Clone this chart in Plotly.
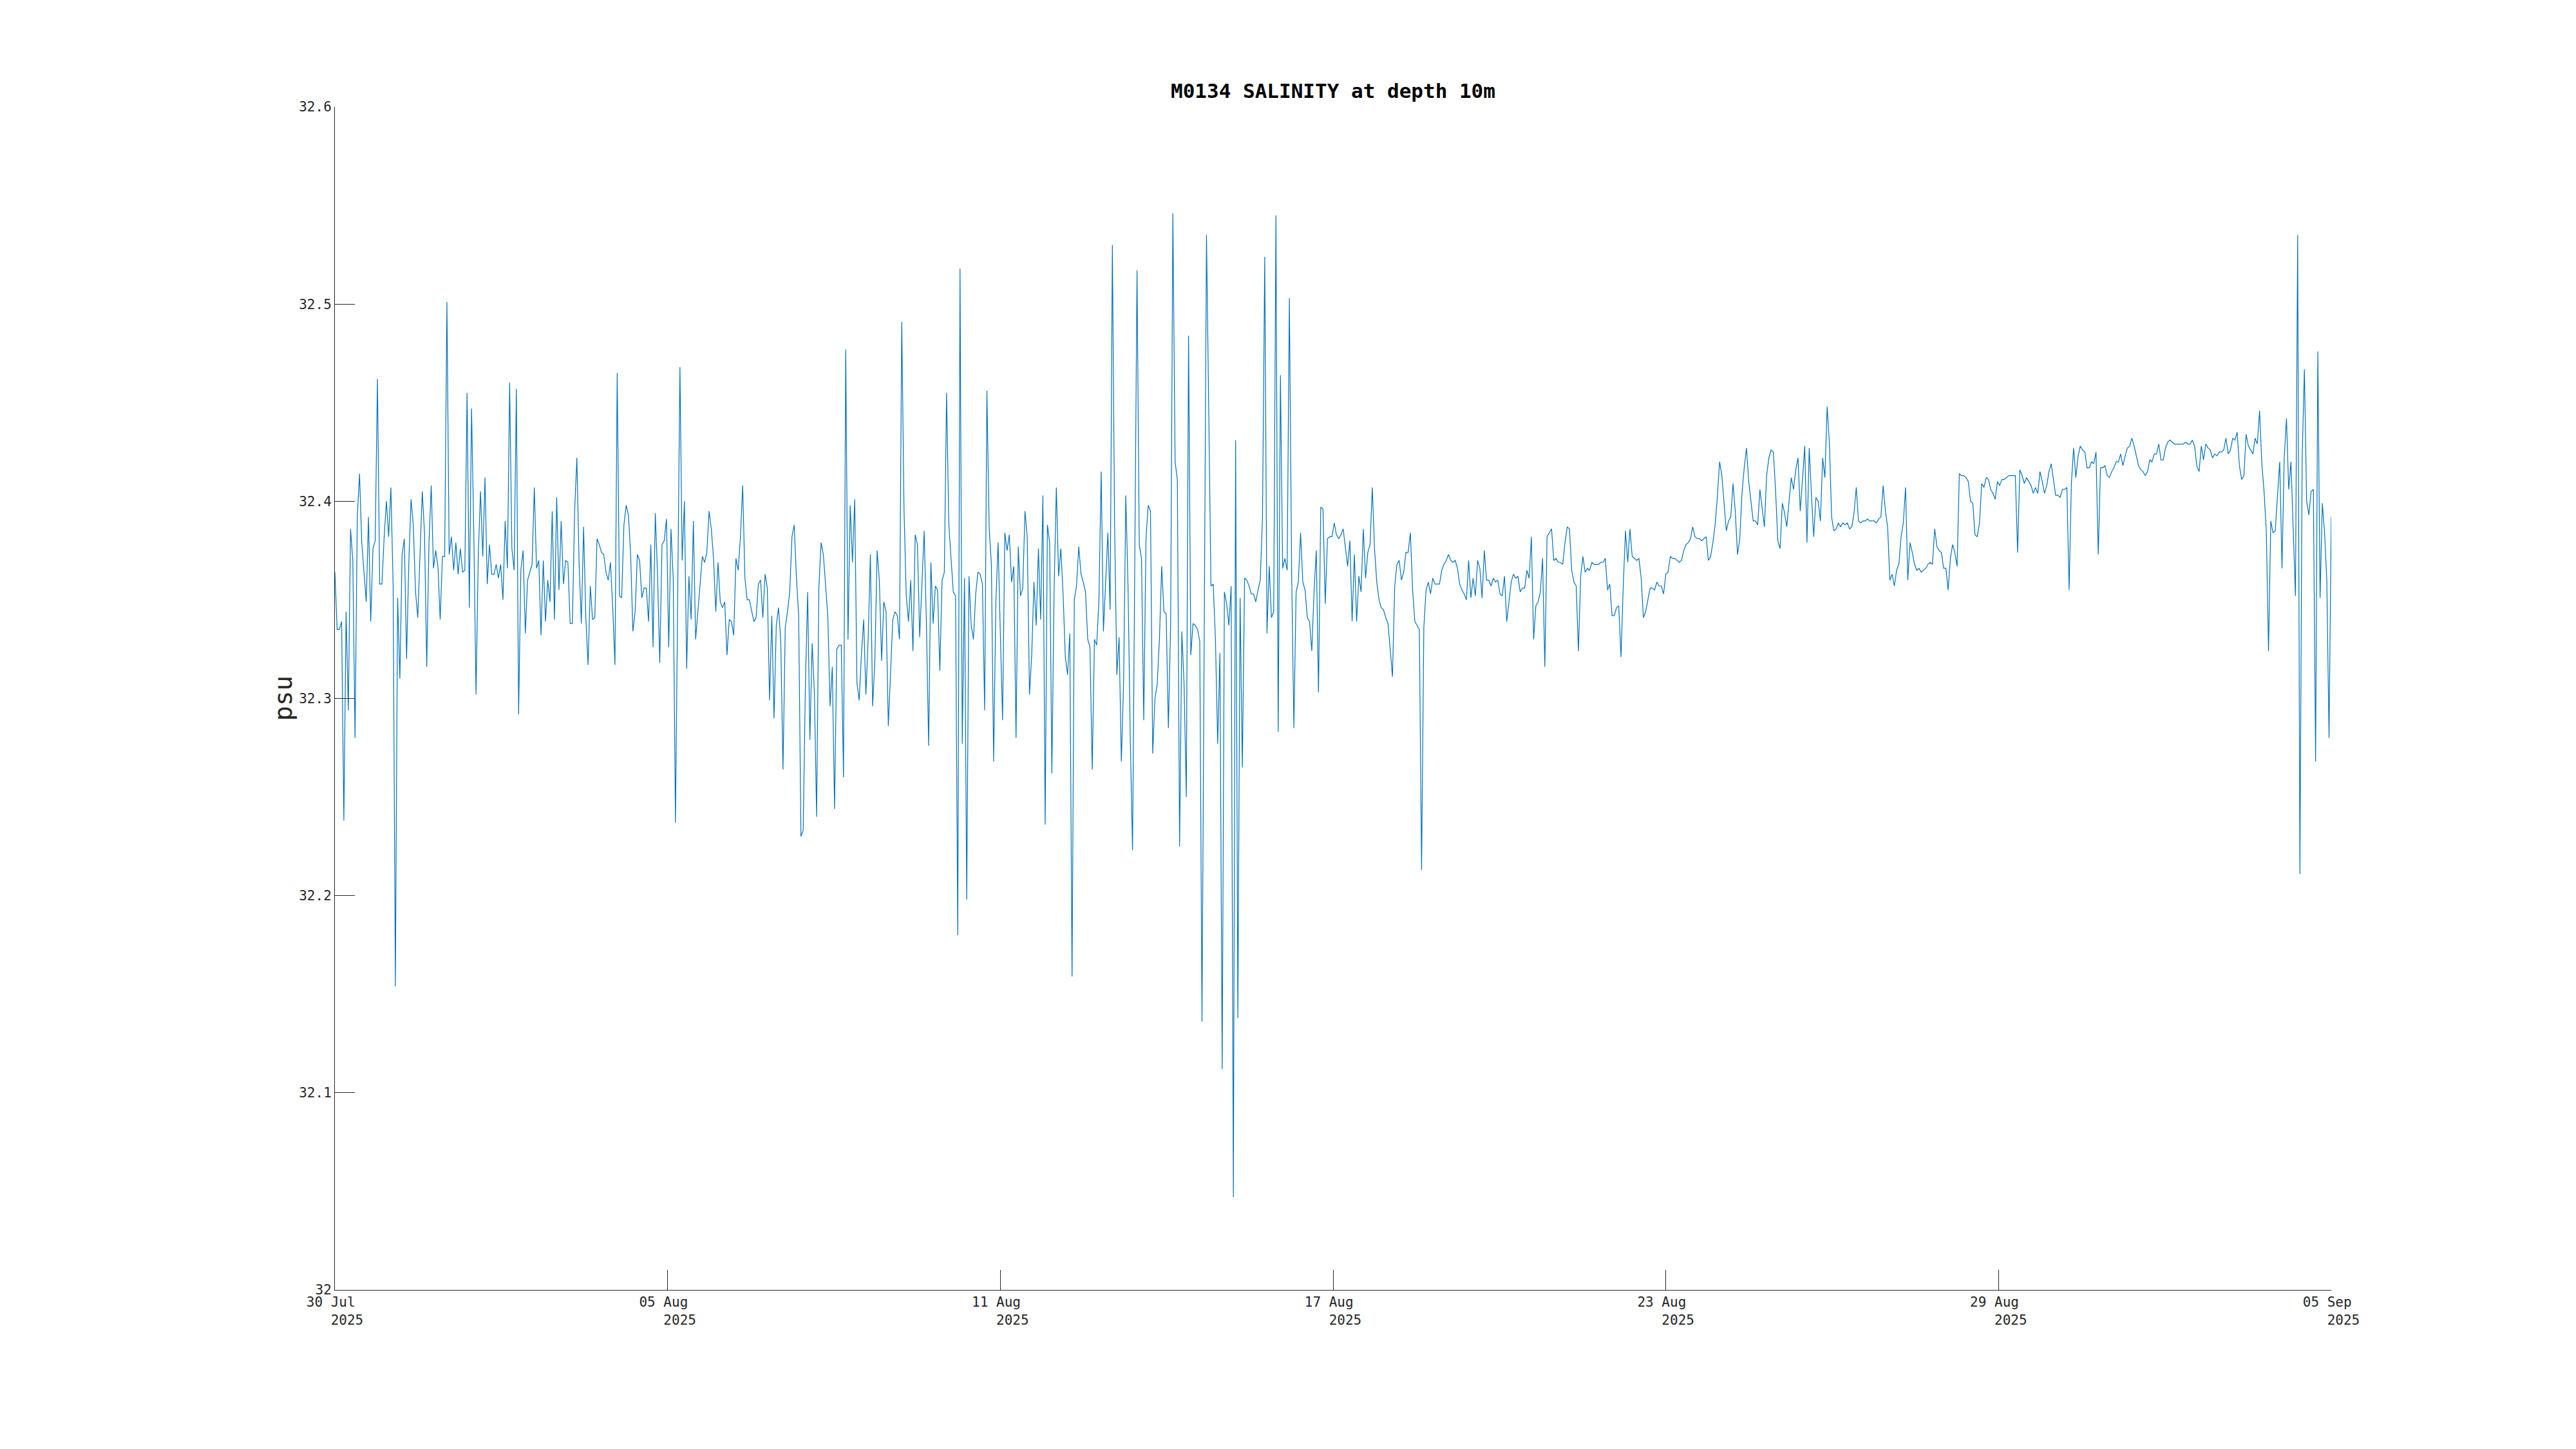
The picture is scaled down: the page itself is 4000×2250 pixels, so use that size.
import pandas as pd
import plotly.graph_objects as go

START = "2025-07-30 00:00"
END = "2025-09-05 00:00"
TITLE = "M0134 SALINITY at depth 10m"
Y_LABEL = "psu"

# salinity readings (psu), in time order, split in chunks
sal_a = [32.364,32.335,32.335,32.339,32.238,32.344,32.294,32.386,32.370,32.280,
         32.392,32.414,32.379,32.364,32.349,32.392,32.339,32.376,32.380,32.462,
         32.358,32.358,32.382,32.400,32.382,32.407,32.357,32.154,32.351,32.310,
         32.373,32.381,32.320,32.369,32.401,32.388,32.354,32.341,32.376,32.405,
         32.384,32.316,32.379,32.408,32.366,32.375,32.367,32.340,32.372,32.372,
         32.501,32.373,32.382,32.365,32.379,32.363,32.376,32.364,32.365,32.455,
         32.346,32.447,32.384,32.302,32.373,32.405,32.372,32.412,32.358,32.378,
         32.363,32.363,32.368,32.361,32.368,32.350,32.390,32.366,32.460,32.376,
         32.365,32.457,32.292,32.365,32.375,32.333,32.360,32.364,32.368,32.407]
sal_b = [32.366,32.370,32.332,32.370,32.339,32.360,32.349,32.395,32.340,32.402,
         32.355,32.390,32.358,32.370,32.369,32.338,32.338,32.395,32.422,32.368,
         32.338,32.387,32.341,32.317,32.357,32.340,32.341,32.381,32.378,32.374,
         32.373,32.364,32.360,32.369,32.346,32.317,32.465,32.352,32.351,32.388,
         32.398,32.393,32.373,32.334,32.344,32.373,32.370,32.351,32.356,32.356,
         32.339,32.378,32.326,32.394,32.363,32.318,32.378,32.380,32.391,32.326,
         32.386,32.361,32.237,32.352,32.468,32.370,32.400,32.315,32.362,32.340,
         32.390,32.330,32.344,32.357,32.372,32.369,32.374,32.395,32.386,32.371,
         32.344,32.369,32.349,32.346,32.349,32.322,32.340,32.339,32.332]
sal_c = [32.371,32.365,32.382,32.408,32.361,32.350,32.350,32.344,32.339,32.341,
         32.358,32.360,32.341,32.363,32.356,32.299,32.342,32.290,32.337,32.346,
         32.329,32.264,32.336,32.344,32.354,32.382,32.388,32.361,32.342,32.230,
         32.233,32.307,32.354,32.279,32.328,32.303,32.240,32.356,32.379,32.373,
         32.359,32.342,32.296,32.316,32.244,32.325,32.327,32.327,32.260,32.477,
         32.330,32.398,32.369,32.401,32.308,32.299,32.322,32.340,32.302,32.330,
         32.373,32.296,32.319,32.375,32.360,32.319,32.349,32.344,32.286,32.314,
         32.340,32.344,32.342,32.330,32.491,32.396,32.352,32.339,32.360,32.324,
         32.383,32.378,32.331,32.358,32.385,32.338,32.276,32.369,32.338]
sal_d = [32.357,32.355,32.314,32.360,32.364,32.455,32.388,32.371,32.354,32.352,
         32.180,32.518,32.277,32.361,32.198,32.362,32.337,32.330,32.353,32.364,
         32.363,32.358,32.294,32.456,32.387,32.368,32.268,32.349,32.379,32.333,
         32.289,32.384,32.375,32.383,32.359,32.367,32.280,32.377,32.352,32.356,
         32.395,32.382,32.302,32.322,32.359,32.337,32.376,32.340,32.403,32.236,
         32.388,32.379,32.262,32.356,32.407,32.362,32.376,32.353,32.321,32.312,
         32.333,32.159,32.350,32.357,32.377,32.363,32.359,32.354,32.330,32.326,
         32.264,32.330,32.327,32.350,32.415,32.334,32.361,32.384,32.345,32.530,
         32.387,32.312,32.331,32.268,32.307,32.403,32.356,32.279,32.223]
sal_e = [32.371,32.517,32.378,32.371,32.289,32.381,32.398,32.395,32.272,32.300,
         32.307,32.330,32.367,32.344,32.343,32.285,32.337,32.546,32.420,32.411,
         32.225,32.334,32.307,32.250,32.484,32.322,32.338,32.337,32.335,32.329,
         32.136,32.324,32.535,32.447,32.357,32.358,32.330,32.277,32.323,32.112,
         32.354,32.348,32.337,32.357,32.047,32.431,32.138,32.351,32.265,32.361,
         32.360,32.357,32.353,32.353,32.349,32.355,32.360,32.392,32.524,32.333,
         32.367,32.341,32.344,32.545,32.283,32.464,32.366,32.371,32.365,32.503,
         32.365,32.285,32.354,32.359,32.384,32.359,32.355,32.341,32.339,32.324,
         32.354,32.375,32.303,32.397,32.396,32.348,32.381,32.382,32.382]
sal_f = [32.389,32.383,32.381,32.383,32.386,32.377,32.367,32.380,32.339,32.373,
         32.339,32.362,32.354,32.386,32.361,32.374,32.378,32.407,32.376,32.359,
         32.350,32.346,32.345,32.341,32.338,32.325,32.311,32.357,32.368,32.370,
         32.360,32.364,32.374,32.374,32.384,32.355,32.339,32.337,32.335,32.213,
         32.336,32.355,32.359,32.353,32.361,32.358,32.358,32.358,32.365,32.368,
         32.370,32.373,32.370,32.369,32.370,32.366,32.358,32.355,32.353,32.350,
         32.370,32.351,32.361,32.352,32.370,32.366,32.351,32.375,32.360,32.360,
         32.357,32.361,32.359,32.360,32.353,32.352,32.362,32.339,32.349,32.359,
         32.363,32.361,32.362,32.354,32.356,32.356,32.365,32.361,32.382]
sal_g = [32.330,32.347,32.349,32.354,32.371,32.316,32.382,32.384,32.386,32.370,
         32.371,32.369,32.369,32.368,32.379,32.387,32.386,32.365,32.359,32.357,
         32.324,32.362,32.372,32.364,32.366,32.365,32.369,32.368,32.368,32.368,
         32.369,32.369,32.371,32.355,32.358,32.342,32.342,32.346,32.347,32.321,
         32.357,32.385,32.369,32.386,32.372,32.371,32.370,32.371,32.361,32.341,
         32.344,32.350,32.356,32.356,32.355,32.359,32.357,32.357,32.353,32.363,
         32.364,32.372,32.371,32.371,32.370,32.369,32.370,32.375,32.378,32.379,
         32.381,32.387,32.382,32.381,32.381,32.380,32.381,32.382,32.370,32.372,
         32.379,32.388,32.402,32.420,32.413,32.400,32.385,32.390,32.392]
sal_h = [32.409,32.395,32.373,32.381,32.404,32.417,32.427,32.410,32.400,32.390,
         32.390,32.388,32.406,32.397,32.387,32.413,32.422,32.426,32.425,32.405,
         32.380,32.376,32.399,32.394,32.387,32.400,32.412,32.406,32.416,32.422,
         32.395,32.411,32.428,32.379,32.427,32.403,32.382,32.402,32.400,32.390,
         32.422,32.412,32.448,32.430,32.392,32.385,32.386,32.389,32.387,32.389,
         32.388,32.389,32.386,32.387,32.394,32.407,32.390,32.389,32.390,32.390,
         32.391,32.390,32.390,32.390,32.389,32.391,32.392,32.408,32.395,32.387,
         32.360,32.363,32.357,32.365,32.368,32.382,32.389,32.407,32.360,32.379,
         32.374,32.368,32.365,32.366,32.364,32.365,32.366,32.368,32.369]
sal_i = [32.368,32.386,32.377,32.375,32.374,32.366,32.366,32.355,32.371,32.378,
         32.374,32.367,32.414,32.413,32.413,32.412,32.410,32.400,32.399,32.383,
         32.382,32.389,32.409,32.407,32.412,32.411,32.406,32.404,32.401,32.410,
         32.408,32.411,32.411,32.412,32.413,32.413,32.413,32.413,32.374,32.416,
         32.413,32.409,32.412,32.410,32.408,32.404,32.407,32.404,32.415,32.410,
         32.404,32.408,32.415,32.419,32.411,32.403,32.403,32.402,32.406,32.406,
         32.407,32.355,32.409,32.427,32.412,32.423,32.428,32.426,32.425,32.417,
         32.417,32.420,32.419,32.425,32.373,32.417,32.417,32.418,32.413,32.412,
         32.415,32.417,32.420,32.420,32.424,32.418,32.423,32.427,32.428]
sal_j = [32.432,32.428,32.423,32.418,32.416,32.415,32.413,32.415,32.421,32.420,
         32.424,32.424,32.429,32.421,32.421,32.427,32.430,32.431,32.430,32.429,
         32.429,32.429,32.429,32.429,32.430,32.429,32.429,32.431,32.428,32.418,
         32.415,32.428,32.421,32.429,32.427,32.426,32.422,32.424,32.423,32.425,
         32.425,32.426,32.432,32.424,32.426,32.432,32.431,32.435,32.418,32.411,
         32.413,32.434,32.428,32.426,32.424,32.432,32.429,32.446,32.419,32.405,
         32.385,32.324,32.390,32.384,32.385,32.403,32.420,32.366,32.422,32.442,
         32.406,32.420,32.389,32.352,32.535,32.211,32.422,32.467,32.400,32.393,
         32.405,32.406,32.268,32.476,32.351,32.399,32.384,32.360,32.280,32.392]

salinity = sal_a + sal_b + sal_c + sal_d + sal_e + sal_f + sal_g + sal_h + sal_i + sal_j
# regular sampling across the whole record
times = pd.date_range(START, END, periods=len(salinity))

x_tick_days = ["30 Jul", "05 Aug", "11 Aug", "17 Aug", "23 Aug", "29 Aug", "05 Sep"]
x_tick_year = "2025"
y_tick_vals = [32.0, 32.1, 32.2, 32.3, 32.4, 32.5, 32.6]
y_tick_text = ["32", "32.1", "32.2", "32.3", "32.4", "32.5", "32.6"]

x_tick_pos = pd.date_range(START, END, periods=len(x_tick_days))
NB = "\u00a0"
x_tick_text = [f"{d}{NB}<br>{NB*3}{x_tick_year}" for d in x_tick_days]

AX = "#262626"
MONO = "DejaVu Sans Mono"

fig = go.Figure()
fig.add_trace(go.Scatter(x=times, y=salinity, mode="lines",
                         line=dict(color="#0072BD", width=1.2),
                         showlegend=False, hoverinfo="skip"))

fig.update_layout(
    width=4000, height=2250,
    paper_bgcolor="white", plot_bgcolor="white",
    margin=dict(l=512, r=388, t=158, b=255, pad=0),
    title=dict(text=TITLE, x=0.5, xref="paper", xanchor="center",
               y=1 - 133 / 2250, yref="container", yanchor="middle",
               font=dict(family=MONO, size=31, color="black", weight="bold")),
    font=dict(family=MONO, size=21, color=AX),
)
fig.update_xaxes(range=[pd.Timestamp(START), pd.Timestamp(END)],
                 tickmode="array", tickvals=x_tick_pos, ticktext=x_tick_text,
                 ticks="inside", ticklen=31, tickwidth=1, tickcolor=AX,
                 showline=True, linecolor=AX, linewidth=1,
                 showgrid=False, zeroline=False,
                 tickfont=dict(family=MONO, size=21, color=AX))
fig.update_yaxes(range=[32.0, 32.6],
                 tickmode="array", tickvals=y_tick_vals, ticktext=y_tick_text,
                 ticks="inside", ticklen=31, tickwidth=1, tickcolor=AX,
                 showline=True, linecolor=AX, linewidth=1,
                 showgrid=False, zeroline=False,
                 tickfont=dict(family=MONO, size=21, color=AX))
fig.add_annotation(text=Y_LABEL, xref="paper", yref="paper",
                   x=(439 - 520) / 3100, y=0.5, xanchor="center", yanchor="middle",
                   textangle=-90, showarrow=False,
                   font=dict(family=MONO, size=39, color=AX))

fig.write_html("out.html")
